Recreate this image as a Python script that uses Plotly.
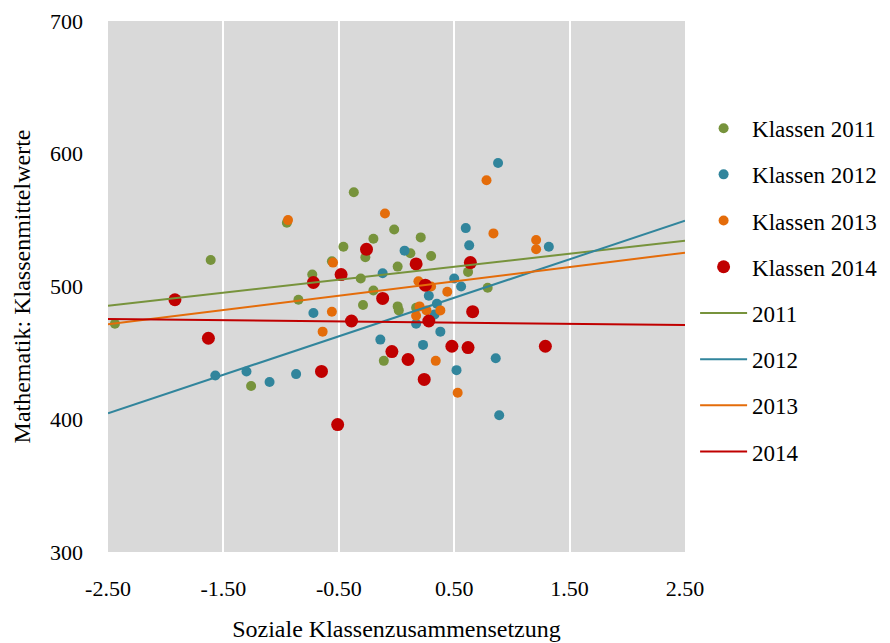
"""
Klassenmittelwerte Mathematik vs. soziale Klassenzusammensetzung
"""
import plotly.graph_objects as go

# Klassen 2011
x_2011 = [-2.44, -1.61, -1.26, -0.95, -0.85, -0.73, -0.56, -0.46, -0.37, -0.31,
          -0.29, -0.27, -0.20, -0.20, -0.11, -0.02, 0.01, 0.01, 0.02, 0.12,
          0.17, 0.21, 0.30, 0.62, 0.79]
y_2011 = [472, 520, 425, 548, 490, 509, 519, 530, 571, 506,
          486, 522, 536, 497, 444, 543, 515, 485, 482, 525,
          484, 537, 523, 511, 499]

# Klassen 2012
x_2012 = [-1.57, -1.30, -1.10, -0.87, -0.72, -0.14, -0.12, 0.07, 0.17, 0.23,
          0.28, 0.33, 0.35, 0.38, 0.50, 0.52, 0.56, 0.60, 0.63, 0.86,
          0.88, 0.89, 1.32]
y_2012 = [433, 436, 428, 434, 480, 460, 510, 527, 472, 456,
          493, 479, 487, 466, 506, 437, 500, 544, 531, 446,
          593, 403, 530]

# Klassen 2013
x_2013 = [-0.94, -0.64, -0.56, -0.55, -0.10, 0.17, 0.19, 0.20, 0.26, 0.30,
          0.34, 0.38, 0.44, 0.53, 0.78, 0.84, 1.21, 1.21]
y_2013 = [550, 466, 481, 518, 555, 478, 504, 485, 482, 500,
          444, 482, 496, 420, 580, 540, 535, 528]

# Klassen 2014
x_2014 = [-1.92, -1.63, -0.72, -0.65, -0.51, -0.48, -0.39, -0.26, -0.12, -0.04,
          0.10, 0.17, 0.24, 0.25, 0.28, 0.48, 0.62, 0.64, 0.66, 1.29]
y_2014 = [490, 461, 503, 436, 396, 509, 474, 528, 491, 451,
          445, 517, 430, 501, 474, 455, 454, 518, 481, 455]

trend_x = [-2.5, 2.5]
trend_2011 = [485.5, 534.5]
trend_2012 = [404.5, 549.5]
trend_2013 = [471.5, 525.5]
trend_2014 = [475.5, 471.0]

# Achsenbeschriftungen
x_ticks = [-2.5, -1.5, -0.5, 0.5, 1.5, 2.5]
x_ticklabels = ["-2.50", "-1.50", "-0.50", "0.50", "1.50", "2.50"]
y_ticks = [300, 400, 500, 600, 700]

GREEN = "#77933C"
BLUE = "#31859C"
ORANGE = "#E46C0A"
RED = "#C00000"
FONT = "Liberation Serif"

fig = go.Figure()

scatter_sets = [
    ("Klassen 2011", x_2011, y_2011, GREEN, 10),
    ("Klassen 2012", x_2012, y_2012, BLUE, 10),
    ("Klassen 2013", x_2013, y_2013, ORANGE, 10),
    ("Klassen 2014", x_2014, y_2014, RED, 13),
]
for name, xs, ys, color, size in scatter_sets:
    fig.add_trace(go.Scatter(
        x=xs, y=ys, mode="markers", name=name, legendgroup=name,
        marker=dict(color=color, size=size),
    ))

trend_sets = [
    ("2011", trend_2011, GREEN),
    ("2012", trend_2012, BLUE),
    ("2013", trend_2013, ORANGE),
    ("2014", trend_2014, RED),
]
for name, ys, color in trend_sets:
    fig.add_trace(go.Scatter(
        x=trend_x, y=ys, mode="lines", name=name, legendgroup=name,
        line=dict(color=color, width=2),
    ))

# the page body adds an 8px offset, so margins are shifted by that
fig.update_layout(
    width=890,
    height=643,
    margin=dict(l=100, r=213, t=13, b=99),
    paper_bgcolor="white",
    plot_bgcolor="#D9D9D9",
    font=dict(family=FONT, size=22, color="black"),
    legend=dict(
        x=1.0175, xanchor="left", y=0.493, yanchor="middle",
        font=dict(family=FONT, size=23),
        tracegroupgap=13.3,
        itemwidth=47,
        bgcolor="rgba(0,0,0,0)",
    ),
    xaxis=dict(
        range=[-2.5, 2.5],
        tickvals=x_ticks, ticktext=x_ticklabels,
        showgrid=True, gridcolor="white", gridwidth=1.5,
        zeroline=False, showline=False, automargin=False,
        ticklabelstandoff=21,
        title=dict(text="Soziale Klassenzusammensetzung", standoff=20,
                   font=dict(size=24)),
    ),
    yaxis=dict(
        range=[300, 700],
        tickvals=y_ticks,
        showgrid=False, zeroline=False, showline=False, automargin=False,
        ticklabelstandoff=24,
        title=dict(text="Mathematik: Klassenmittelwerte", standoff=12,
                   font=dict(size=24)),
    ),
)

fig.write_html("out.html")
